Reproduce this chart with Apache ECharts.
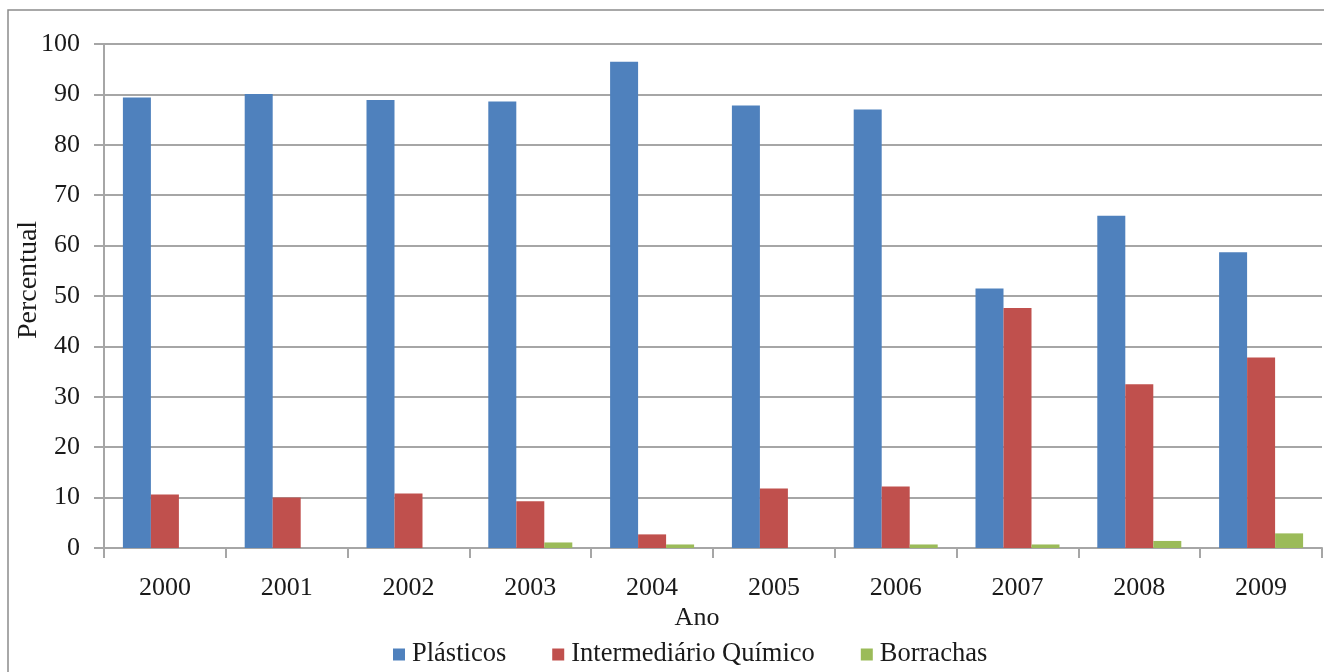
<!DOCTYPE html>
<html>
<head>
<meta charset="utf-8">
<script src="https://cdn.jsdelivr.net/npm/echarts@6/dist/echarts.min.js"></script>
<style>
  html, body { margin: 0; padding: 0; background: #ffffff; }
  #chart { width: 1324px; height: 672px; }
</style>
</head>
<body>
<div id="chart"></div>
<script>
// Participação percentual por segmento, 2000–2009
const anos = ['2000', '2001', '2002', '2003', '2004', '2005', '2006', '2007', '2008', '2009'];
const plasticos = [89.4, 90.1, 88.9, 88.6, 96.5, 87.8, 87.0, 51.5, 65.9, 58.7];
const intermediario = [10.6, 10.0, 10.8, 9.3, 2.7, 11.8, 12.2, 47.6, 32.5, 37.8];
const borrachas = [0, 0, 0, 1.1, 0.7, 0, 0.7, 0.7, 1.4, 2.9];
const nomesSeries = ['Plásticos', 'Intermediário Químico', 'Borrachas'];
const cores = ['#4f81bd', '#c0504d', '#9bbb59'];

const serif = '"Liberation Serif", "DejaVu Serif", serif';
const gridColor = '#a6a6a6';
const textColor = '#1a1a1a';

const chart = echarts.init(document.getElementById('chart'), null, { renderer: 'canvas' });

function barSeries(name, data, color) {
  return {
    name: name,
    type: 'bar',
    data: data,
    barWidth: 28,
    barGap: '0%',
    itemStyle: { color: color },
    emphasis: { disabled: true }
  };
}

chart.setOption({
  animation: false,
  textStyle: { fontFamily: serif },
  graphic: [{
    type: 'rect',
    shape: { x: 8, y: 10, width: 1330, height: 680 },
    style: { fill: 'none', stroke: '#8c8c8c', lineWidth: 1.5 },
    silent: true,
    z: -1
  }],
  grid: { left: 104, right: 2, top: 44, bottom: 124, outerBoundsMode: 'none' },
  legend: {
    data: nomesSeries,
    top: 636,
    left: 388,
    itemWidth: 12,
    itemHeight: 12,
    itemGap: 46,
    icon: 'rect',
    textStyle: { fontFamily: serif, fontSize: 26.5, color: textColor, padding: [0, 0, 0, 2] }
  },
  xAxis: {
    type: 'category',
    data: anos,
    name: 'Ano',
    nameLocation: 'middle',
    nameGap: 57,
    nameMoveOverlap: false,
    nameTextStyle: { fontFamily: serif, fontSize: 26, color: textColor, padding: [0, 32, 0, 0] },
    axisLine: { lineStyle: { color: gridColor, width: 2 } },
    axisTick: { show: true, length: 10, lineStyle: { color: gridColor, width: 2 } },
    axisLabel: { fontFamily: serif, fontSize: 26, color: textColor, margin: 27 }
  },
  yAxis: {
    type: 'value',
    min: 0,
    max: 100,
    interval: 10,
    name: 'Percentual',
    nameLocation: 'middle',
    nameGap: 61,
    nameMoveOverlap: false,
    nameTextStyle: { fontFamily: serif, fontSize: 28, color: textColor, padding: [0, 0, 0, 32] },
    axisLine: { show: true, lineStyle: { color: gridColor, width: 2 } },
    axisTick: { show: true, length: 10, lineStyle: { color: gridColor, width: 2 } },
    axisLabel: { fontFamily: serif, fontSize: 26, color: textColor, margin: 24 },
    splitLine: { lineStyle: { color: gridColor, width: 2 } }
  },
  series: [
    barSeries(nomesSeries[0], plasticos, cores[0]),
    barSeries(nomesSeries[1], intermediario, cores[1]),
    barSeries(nomesSeries[2], borrachas, cores[2])
  ]
});
</script>
</body>
</html>
